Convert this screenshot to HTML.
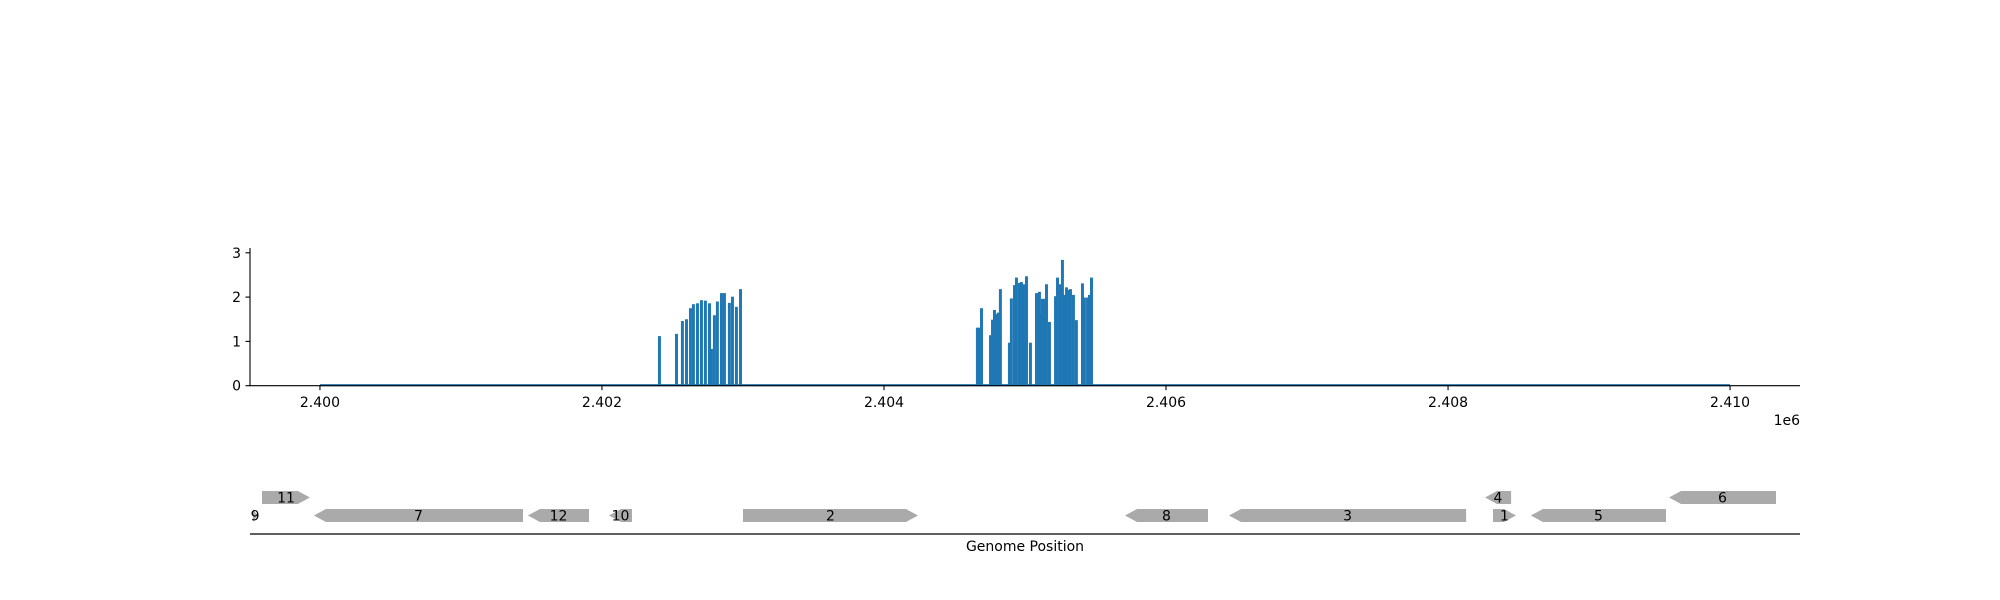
<!DOCTYPE html>
<html><head><meta charset="utf-8"><style>
html,body{margin:0;padding:0;background:#fff;}
svg{display:block;font-family:"DejaVu Sans","Liberation Sans",sans-serif;}
</style></head><body>
<svg id="chart" width="2000" height="600" viewBox="0 0 2000 600" xmlns="http://www.w3.org/2000/svg">
<g id="plot"></g>
<g id="genes"></g>
</svg>
<script>
const barPositions = [2402397,2402518,2402560,2402589,2402617,2402638,2402667,2402695,2402723,2402752,2402766,2402787,2402808,2402837,2402858,2402893,2402915,2402943,2402972,
2404652,2404667,2404681,2404745,2404759,2404773,2404787,2404801,2404815,2404879,2404893,2404915,2404929,2404950,2404964,2404979,2405000,2405028,2405071,2405092,2405099,2405113,2405128,2405142,2405163,2405206,2405220,2405241,2405255,2405269,2405284,2405298,2405312,2405333,2405354,2405397,2405411,2405433,2405447,2405461];
const barValues = [1.12,1.17,1.46,1.50,1.75,1.84,1.86,1.93,1.92,1.86,0.83,1.59,1.90,2.09,2.09,1.87,2.01,1.78,2.18,
1.31,1.31,1.75,1.14,1.49,1.71,1.62,1.65,2.18,0.97,1.97,2.27,2.44,2.32,2.34,2.29,2.47,0.97,2.09,2.12,1.61,1.96,1.96,2.29,1.44,2.02,2.44,2.29,2.84,2.05,2.22,2.16,2.18,2.05,1.48,2.31,1.99,1.99,2.05,2.44];
const xTicks = [2400000,2402000,2404000,2406000,2408000,2410000];
const xTickLabels = ["2.400","2.402","2.404","2.406","2.408","2.410"];
const yTicks = [0,1,2,3];
const geneNames = ["9","11","7","12","10","2","8","3","4","1","5","6"];
const geneStarts = [2399525,2399589,2399957,2401475,2402050,2403000,2405709,2406447,2408262,2408319,2408588,2409567];
const geneEnds   = [2399555,2399929,2401440,2401908,2402213,2404241,2406298,2408128,2408447,2408482,2409546,2410326];
const geneStrands = [1,1,-1,-1,-1,1,-1,-1,-1,1,-1,-1];
const geneRows = [0,1,0,0,0,0,0,0,1,0,0,1];

const NS="http://www.w3.org/2000/svg";
const X0=250,X1=1800,D0=2399504,D1=2410496;
const xs=v=>X0+(v-D0)/(D1-D0)*(X1-X0);
const Y0=385.7,YU=44.3;
const ys=v=>Y0-v*YU;
function mk(tag,attrs,parent,text){const e=document.createElementNS(NS,tag);for(const k in attrs)e.setAttribute(k,attrs[k]);if(text!==undefined)e.textContent=text;parent.appendChild(e);return e;}
const plot=document.getElementById('plot');
let bl=mk('line',{x1:xs(2400000),x2:xs(2410000),y1:ys(0)-0.5,y2:ys(0)-0.5,stroke:'#1f77b4','stroke-width':2.2},plot);


barPositions.forEach((p,i)=>{
  const x=xs(p),w=xs(p+21)-x;
  const r=mk('rect',{x:x.toFixed(2),y:ys(barValues[i]).toFixed(2),width:w.toFixed(2),height:(barValues[i]*YU).toFixed(2),fill:'#1f77b4'},plot);
  
  
});
let ya=mk('line',{x1:X0,x2:X0,y1:248,y2:Y0+0.5,stroke:'#000','stroke-width':1.1},plot);


let xa=mk('line',{x1:X0,x2:X1,y1:Y0,y2:Y0,stroke:'#000','stroke-width':1.1},plot);


yTicks.forEach(t=>{
  mk('line',{x1:X0-4.5,x2:X0,y1:ys(t),y2:ys(t),stroke:'#000','stroke-width':1.1},plot);
  const l=mk('text',{x:X0-9,y:ys(t)+5,'text-anchor':'end','font-size':14},plot,String(t));
  
  
});
xTicks.forEach((t,i)=>{
  mk('line',{x1:xs(t),x2:xs(t),y1:Y0,y2:Y0+4.5,stroke:'#000','stroke-width':1.1},plot);
  const l=mk('text',{x:xs(t),y:407,'text-anchor':'middle','font-size':14},plot,xTickLabels[i]);
  
  
});
let off=mk('text',{x:X1,y:425,'text-anchor':'end','font-size':14},plot,'1e6');


const genes=document.getElementById('genes');
const rowTop=[509,491],GH=13,HEAD=12;
geneNames.forEach((n,i)=>{
  const a=xs(geneStarts[i]),b=xs(geneEnds[i]),t=rowTop[geneRows[i]],m=t+GH/2;
  const h=Math.min(HEAD,b-a);
  let pts;
  if(geneStrands[i]>0) pts=[[a,t],[b-h,t],[b,m],[b-h,t+GH],[a,t+GH]];
  else pts=[[a,m],[a+h,t],[b,t],[b,t+GH],[a+h,t+GH]];
  const g=mk('polygon',{points:pts.map(p=>p[0].toFixed(1)+','+p[1].toFixed(1)).join(' '),fill:'#aaaaaa'},genes);
  
  
  const l=mk('text',{x:((a+b)/2).toFixed(1),y:m+5,'text-anchor':'middle','font-size':14},genes,n);
  
  
});
let gl=mk('line',{x1:X0,x2:X1,y1:534,y2:534,stroke:'#000','stroke-width':1.3},genes);


let gt=mk('text',{x:1025,y:551,'text-anchor':'middle','font-size':14},genes,'Genome Position');


</script>
</body></html>
